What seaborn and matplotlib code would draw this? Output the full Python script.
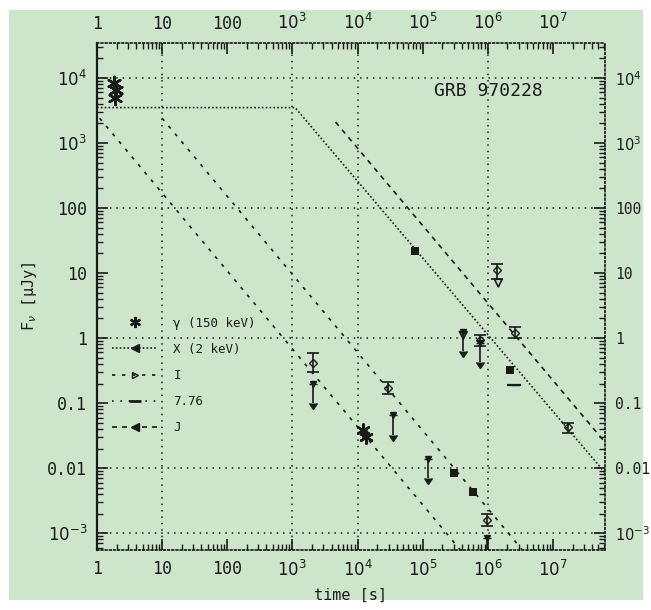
import matplotlib
matplotlib.use("Agg")
import numpy as np
import pandas as pd
import matplotlib.pyplot as plt
import seaborn as sns
from matplotlib.lines import Line2D
from matplotlib.patches import Rectangle
from matplotlib.ticker import LogLocator, NullFormatter

# ---------------- data ----------------
# model light curves (power-law segments): time [s], flux [μJy]
model_a_t = [1.1, 3.8e5]
model_a_F = [2.4e3, 5.5e-4]
model_b_t = [10.0, 3.4e6]
model_b_F = [2.4e3, 5.5e-4]
model_c_t = [1.0, 1.1e3, 6.3e7]
model_c_F = [3.5e3, 3.5e3, 8.5e-3]
model_d_t = [4.6e3, 6.3e7]
model_d_F = [2.1e3, 2.5e-2]

# gamma-ray points (asterisks)
gamma_t = [1.85, 1.95, 1.9]
gamma_F = [8.5e3, 6.5e3, 5.0e3]
# other asterisk points
ast_t = [1.2e4, 1.35e4]
ast_F = [0.038, 0.030]

# detections with vertical error bars (value, lower end, upper end)
det_t = [2.1e3, 2.95e4, 1.4e6, 2.6e6, 1.7e7, 9.8e5, 7.6e5]
det_F = [0.42, 0.17, 11.0, 1.2, 0.043, 0.0016, 0.95]
det_lo = [0.30, 0.14, 8.0, 1.0, 0.035, 0.0013, 0.75]
det_hi = [0.59, 0.21, 14.0, 1.5, 0.050, 0.0020, 1.10]

# upper limits (downward arrows)
ul_t = [2.1e3, 3.5e4, 1.2e5, 4.2e5, 7.6e5, 9.8e5]
ul_F = [0.2, 0.065, 0.014, 1.25, 0.85, 8.5e-4]

# filled markers
filled_t = [7.6e4, 3.0e5, 6.0e5, 2.2e6]
filled_F = [22.0, 0.0083, 0.0043, 0.32]
# open markers
open_t = [1.45e6, 4.2e5]
open_F = [7.0, 1.1]
# point with horizontal bar
hbar_t = [2.6e6]
hbar_F = [0.19]
hbar_xerr = [6e5]

x_ticks = [1, 10, 100, 1e3, 1e4, 1e5, 1e6, 1e7]
x_labels = ["1", "10", "100", r"$10^3$", r"$10^4$", r"$10^5$", r"$10^6$", r"$10^7$"]
y_ticks = [1e-3, 1e-2, 0.1, 1, 10, 100, 1e3, 1e4]
y_labels = [r"$10^{-3}$", "0.01", "0.1", "1", "10", "100", r"$10^3$", r"$10^4$"]
grid_x = [10, 1e3, 1e4, 1e6]
grid_y = [1e-3, 1e-2, 1, 100, 1e4]

legend_labels = ["γ (150 keV)", "X (2 keV)", "I", "7.76", "J"]
title_text = "GRB 970228"

# ---------------- drawing ----------------
sns.set_theme(style="ticks")
plt.rcParams["font.family"] = ["DejaVu Sans Mono", "DejaVu Sans"]
plt.rcParams["mathtext.fontset"] = "dejavusans"

GREEN = "#cde5cb"
fig = plt.figure(figsize=(6.51, 6.10), dpi=100, facecolor="white")
fig.patches.append(Rectangle((9 / 651, 10 / 610), 634 / 651, 590 / 610,
                             transform=fig.transFigure, facecolor=GREEN,
                             edgecolor="none", zorder=-10))
ax = fig.add_axes([97 / 651, 1 - 550 / 610, 508 / 651, 507 / 610])
ax.set_facecolor(GREEN)
ax.set_xscale("log")
ax.set_yscale("log")
ax.set_xlim(1, 6.3e7)
ax.set_ylim(5.5e-4, 3.45e4)

grid_ls = (0, (1, 3.2))
for gx in grid_x:
    ax.axvline(gx, color="k", lw=1.1, ls=grid_ls, zorder=1)
for gy in grid_y:
    ax.axhline(gy, color="k", lw=1.1, ls=grid_ls, zorder=1)

models = [
    (model_a_t, model_a_F, (0, (2, 4))),
    (model_b_t, model_b_F, (0, (2, 4))),
    (model_c_t, model_c_F, (0, (1, 1.3))),
    (model_d_t, model_d_F, (0, (3, 3))),
]
for mt, mf, ls in models:
    df = pd.DataFrame({"t": mt, "F": mf})
    sns.lineplot(data=df, x="t", y="F", ax=ax, color="k", lw=1.2,
                 linestyle=ls, estimator=None, sort=False, zorder=2)

ast_marker = (6, 2, 0)
sns.scatterplot(x=gamma_t, y=gamma_F, ax=ax, marker=ast_marker, s=90,
                color="k", linewidth=1.8, zorder=4)
sns.scatterplot(x=ast_t, y=ast_F, ax=ax, marker=ast_marker, s=80,
                color="k", linewidth=1.8, zorder=4)

det_F_arr = np.array(det_F)
ax.errorbar(det_t, det_F,
            yerr=[det_F_arr - np.array(det_lo), np.array(det_hi) - det_F_arr],
            fmt="D", ms=4, mfc="none", mec="k", ecolor="k", elinewidth=1.2,
            capsize=4, capthick=1.2, zorder=4)
ax.errorbar(ul_t, ul_F, yerr=np.array(ul_F) * 0.5, uplims=True, fmt="v",
            ms=5, color="k", elinewidth=1.2, capsize=3, zorder=4)
sns.scatterplot(x=filled_t, y=filled_F, ax=ax, marker="s", s=30, color="k",
                linewidth=0, zorder=4)
sns.scatterplot(x=open_t, y=open_F, ax=ax, marker="v", s=30, facecolor="none",
                edgecolor="k", linewidth=1.2, zorder=4)
ax.errorbar(hbar_t, hbar_F, xerr=hbar_xerr, fmt="_", ms=6, color="k",
            elinewidth=1.6, capsize=0, zorder=4)

# axes styling
ax.set_xticks(x_ticks, labels=x_labels)
ax.set_yticks(y_ticks, labels=y_labels)
ax.xaxis.set_minor_locator(LogLocator(base=10, subs=np.arange(2, 10), numticks=30))
ax.yaxis.set_minor_locator(LogLocator(base=10, subs=np.arange(2, 10), numticks=30))
ax.xaxis.set_minor_formatter(NullFormatter())
ax.yaxis.set_minor_formatter(NullFormatter())
ax.tick_params(which="both", direction="in", top=True, right=True,
               labeltop=True, labelright=True, colors="k")
ax.tick_params(which="major", length=8, width=1.2, labelsize=12, pad=7)
ax.tick_params(which="minor", length=4, width=1.0)
ax.tick_params(axis="y", which="major", labelright=True)
for lab in ax.get_yticklabels(which="major"):
    pass
ax.yaxis.set_tick_params(which="major", pad=7)
# right-hand labels slightly smaller so they fit the canvas
for tick in ax.yaxis.get_major_ticks():
    tick.label2.set_fontsize(10.5)
    tick.set_pad(7)

for side in ["top", "right", "bottom"]:
    ax.spines[side].set_linestyle((0, (1, 1.5)))
    ax.spines[side].set_linewidth(1.2)
    ax.spines[side].set_color("k")
ax.spines["left"].set_linewidth(1.6)
ax.spines["left"].set_color("k")

ax.set_xlabel("time [s]", fontsize=11, color="k", labelpad=6)
ax.set_ylabel(r"F$_\nu$ [μJy]", fontsize=11, color="k", labelpad=6)
ax.text(0.77, 0.905, title_text, transform=ax.transAxes, ha="center",
        va="center", fontsize=13, color="k")

handles = [
    Line2D([], [], marker=ast_marker, ls="none", color="k", ms=8, mew=1.6),
    Line2D([], [], marker="<", ls=(0, (1, 1.3)), color="k", ms=6, lw=1.2),
    Line2D([], [], marker=">", mfc="none", ls=(0, (2, 4)), color="k", ms=5, lw=1.2),
    Line2D([], [], marker="_", ls=(0, (1, 4)), color="k", ms=8, mew=2, lw=1.2),
    Line2D([], [], marker="<", ls=(0, (3, 3)), color="k", ms=6, lw=1.2),
]
leg = ax.legend(handles, legend_labels, loc="upper left",
                bbox_to_anchor=(0.02, 0.47), frameon=False, fontsize=9,
                handlelength=3.6, handletextpad=1.3, labelspacing=1.05,
                borderaxespad=0.0)
for t in leg.get_texts():
    t.set_color("k")

fig.savefig("out.png", dpi=100, facecolor=fig.get_facecolor())
